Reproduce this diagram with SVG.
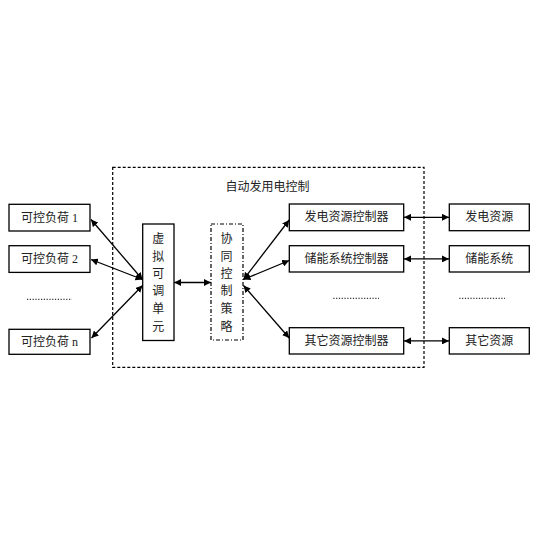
<svg xmlns="http://www.w3.org/2000/svg" width="536" height="536" viewBox="0 0 536 536">
<defs>
<marker id="ah" viewBox="0 0 10 10" refX="10" refY="5" markerWidth="7" markerHeight="7" markerUnits="userSpaceOnUse" orient="auto-start-reverse">
<path d="M0,0 L10,5 L0,10 z" fill="#000"/>
</marker>
<style>
.box{fill:#fff;stroke:#000;stroke-width:1.3}
.t{font-family:"Liberation Serif","Noto Sans CJK SC",serif;font-size:12px;fill:#222;text-anchor:middle;dominant-baseline:central}
.c{stroke:#000;stroke-width:1.3;fill:none;marker-start:url(#ah);marker-end:url(#ah)}
.dots{stroke:#000;stroke-width:1;stroke-dasharray:1.2,1.6}
</style>
</defs>
<rect width="536" height="536" fill="#fff"/>
<g id="acg">
<rect x="112.7" y="167.3" width="311.3" height="200" fill="none" stroke="#000" stroke-width="1.2" stroke-dasharray="3,2"/>
<text class="t" x="267.5" y="186.7">自动发用电控制</text>
</g>
<g id="load1"><rect class="box" x="9" y="204.3" width="81" height="26.7"/><text class="t" x="49.5" y="217.7">可控负荷 1</text></g>
<g id="load2"><rect class="box" x="9" y="245.7" width="81" height="26.7"/><text class="t" x="49.5" y="259">可控负荷 2</text></g>
<line class="dots" x1="27" y1="299.3" x2="72" y2="299.3"/>
<g id="loadn"><rect class="box" x="9" y="329.3" width="81" height="25"/><text class="t" x="49.5" y="341.8">可控负荷 n</text></g>
<g id="vunit"><rect class="box" x="142.7" y="224" width="31.3" height="116.5"/>
<text class="t" x="158.3" y="239">虚</text><text class="t" x="158.3" y="256.7">拟</text><text class="t" x="158.3" y="273.5">可</text><text class="t" x="158.3" y="290.8">调</text><text class="t" x="158.3" y="309">单</text><text class="t" x="158.3" y="326.7">元</text></g>
<g id="strategy"><rect x="211" y="224" width="32" height="116" fill="#fff" stroke="#000" stroke-width="1.2" stroke-dasharray="4,2,1,2"/>
<text class="t" x="226.5" y="239">协</text><text class="t" x="226.5" y="256.7">同</text><text class="t" x="226.5" y="273.5">控</text><text class="t" x="226.5" y="290.8">制</text><text class="t" x="226.5" y="309">策</text><text class="t" x="226.5" y="326.7">略</text></g>
<g id="genctl"><rect class="box" x="289.3" y="204" width="114.4" height="26.7"/><text class="t" x="346.5" y="217.3">发电资源控制器</text></g>
<g id="essctl"><rect class="box" x="289.3" y="245.7" width="114.4" height="26.3"/><text class="t" x="346.5" y="258.9">储能系统控制器</text></g>
<line class="dots" x1="333.3" y1="298.3" x2="379" y2="298.3"/>
<g id="othctl"><rect class="box" x="289.3" y="327.7" width="114.4" height="26.3"/><text class="t" x="346.5" y="340.9">其它资源控制器</text></g>
<g id="gen"><rect class="box" x="449.3" y="204" width="80" height="26.7"/><text class="t" x="489.3" y="217.3">发电资源</text></g>
<g id="ess"><rect class="box" x="449.3" y="245.7" width="80" height="26.3"/><text class="t" x="489.3" y="258.9">储能系统</text></g>
<line class="dots" x1="459.3" y1="298.3" x2="505" y2="298.3"/>
<g id="oth"><rect class="box" x="449.3" y="327.7" width="80" height="26.3"/><text class="t" x="489.3" y="340.9">其它资源</text></g>
<g id="connectors">
<line class="c" x1="91" y1="219.5" x2="142.5" y2="279.5"/>
<line class="c" x1="91" y1="259.5" x2="142.5" y2="279.5"/>
<line class="c" x1="91.5" y1="338" x2="142.5" y2="285.5"/>
<line class="c" x1="174.2" y1="282.5" x2="210.8" y2="282.5"/>
<line class="c" x1="289.2" y1="220" x2="243.5" y2="279.5"/>
<line class="c" x1="289.2" y1="260.5" x2="243.5" y2="279.5"/>
<line class="c" x1="289.2" y1="338" x2="243.5" y2="285.5"/>
<line class="c" x1="404" y1="217.3" x2="449" y2="217.3"/>
<line class="c" x1="404" y1="258.9" x2="449" y2="258.9"/>
<line class="c" x1="404" y1="340.9" x2="449" y2="340.9"/>
</g>
</svg>
